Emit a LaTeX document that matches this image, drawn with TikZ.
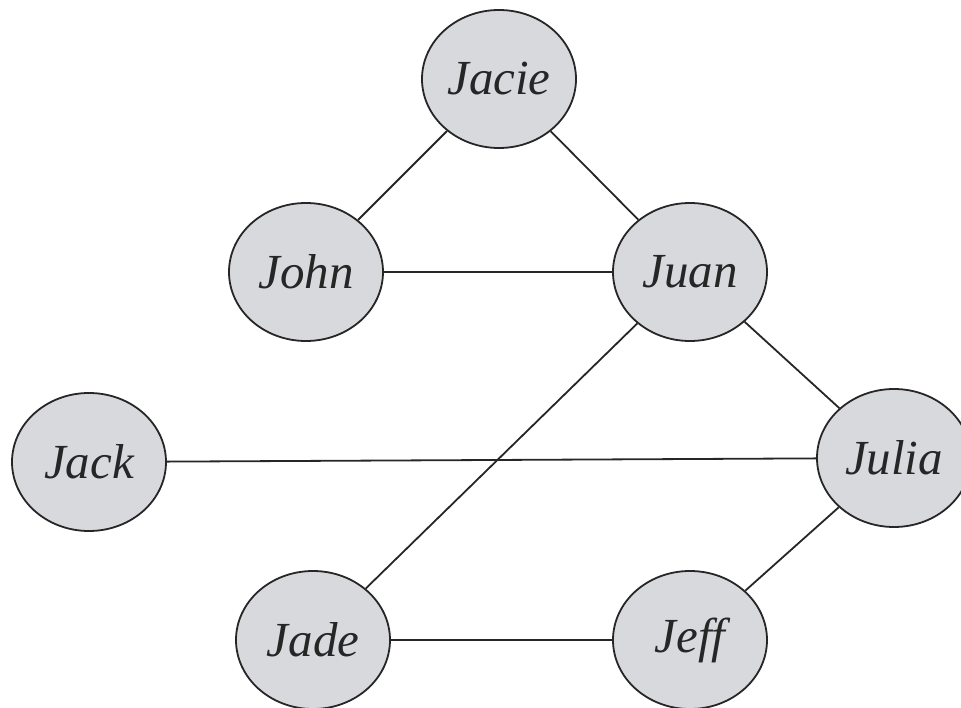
\documentclass[tikz,border=0pt]{standalone}
\usepackage{fontspec}
\setmainfont{Liberation Serif}
\usetikzlibrary{shapes.geometric}
\definecolor{nodegray}{HTML}{D8D9DD}
\tikzset{
  person/.style={ellipse, draw=black!85, line width=1.8pt, fill=nodegray,
    minimum width=154pt, minimum height=138pt, inner sep=0pt,
    font=\fontsize{49}{52}\selectfont\itshape, text=black!85},
  link/.style={draw=black!85, line width=1.8pt}
}
\begin{document}
\begin{tikzpicture}[x=1pt,y=-1pt]
\useasboundingbox (0,0) rectangle (961,708);
\node[person] (jacie) at (499,79) {Jacie};
\node[person] (john) at (306,272) {John};
\node[person] (juan) at (690,272) {Juan};
\node[person] (jack) at (89,462) {Jack};
\node[person] (julia) at (894,458) {Julia};
\node[person] (jade) at (313,640) {Jade};
\node[person] (jeff) at (690,640) {Jeff};
\draw[link] (jacie) -- (john);
\draw[link] (jacie) -- (juan);
\draw[link] (john) -- (juan);
\draw[link] (juan) -- (julia);
\draw[link] (juan) -- (jade);
\draw[link] (jack) -- (julia);
\draw[link] (julia) -- (jeff);
\draw[link] (jade) -- (jeff);
\end{tikzpicture}
\end{document}
